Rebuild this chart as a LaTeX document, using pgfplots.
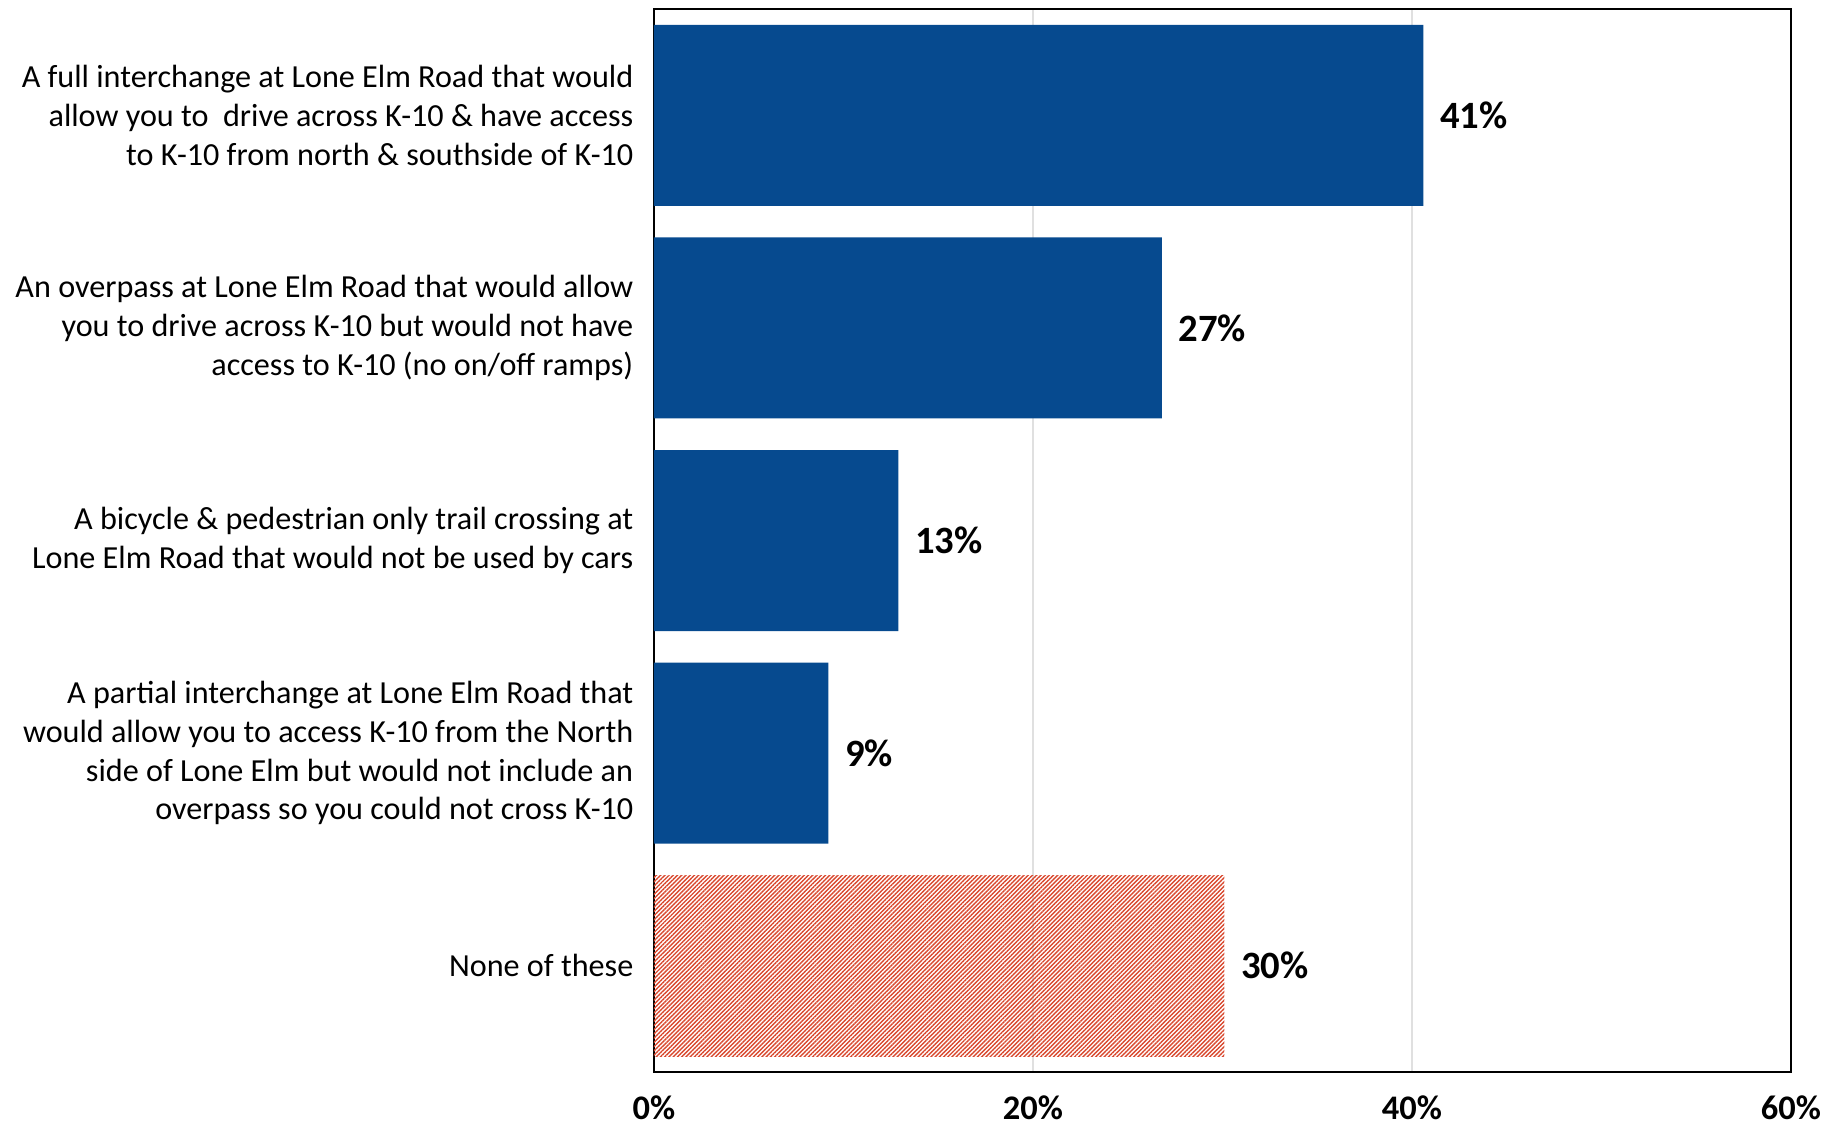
\documentclass[border=0pt]{standalone}
\usepackage{fontspec}
\setmainfont{Carlito}
\usepackage{pgfplots}
\pgfplotsset{compat=1.18}
\usetikzlibrary{patterns.meta}
\definecolor{barblue}{HTML}{064A8F}
\definecolor{hatchred}{HTML}{D9482E}
\begin{document}
\begin{tikzpicture}
\path[use as bounding box] (-6.54,-0.54) rectangle (11.87,10.72);
\begin{axis}[
    scale only axis, width=11.37cm, height=10.63cm,
    xbar, bar width=1.81cm, bar shift=0pt,
    xmin=0, xmax=60, ymin=-0.5, ymax=4.5, y dir=reverse,
    axis line style={line width=0.8pt},
    xtick={0,20,40,60}, xticklabels={0\%,20\%,40\%,60\%},
    xmajorgrids, grid style={color=black!12, line width=0.5pt},
    major tick length=0pt,
    xticklabel style={font=\fontsize{9.8}{11}\selectfont\bfseries, inner sep=0pt, yshift=-0.23cm},
    ytick={0,1,2,3,4},
    yticklabels={
      {A full interchange at Lone Elm Road that would\\allow you to \ drive across K-10 \& have access\\to K-10 from north \& southside of K-10},
      {An overpass at Lone Elm Road that would allow\\you to drive across K-10 but would not have\\access to K-10 (no on/off ramps)},
      {A bicycle \& pedestrian only trail crossing at\\Lone Elm Road that would not be used by cars},
      {A partial interchange at Lone Elm Road that\\would allow you to access K-10 from the North\\side of Lone Elm but would not include an\\overpass so you could not cross K-10},
      {None of these}},
    yticklabel style={font=\fontsize{9.15}{11}\selectfont, align=right, inner sep=0pt, xshift=-0.2cm},
    /pgf/number format/assume math mode=true,
    point meta=x,
    nodes near coords={\pgfmathprintnumber[fixed,precision=0]{\pgfplotspointmeta}\%},
    nodes near coords style={font=\fontsize{11}{13}\selectfont\bfseries, anchor=west, inner sep=0pt, xshift=0.16cm},
]
\addplot[fill=barblue, draw=none] coordinates {(40.6,0) (26.8,1) (12.9,2) (9.2,3)};
\addplot[draw=none, pattern={Lines[angle=45,distance=0.85pt,line width=0.4pt]}, pattern color=hatchred] coordinates {(30.1,4)};
\end{axis}
\end{tikzpicture}
\end{document}
